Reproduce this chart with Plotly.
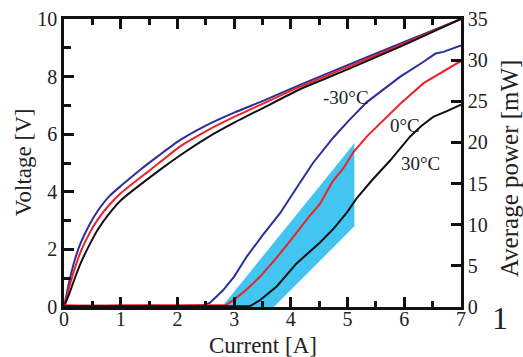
import plotly.graph_objects as go

# ---- Data ----
# Voltage [V] vs current [A]
v_cur_m30 = [0, 0.1, 0.2, 0.3, 0.46, 0.6, 0.8, 1.0, 1.34, 1.7, 2.05, 2.5, 3.0, 3.5, 4.16, 5.0, 6.0, 7.0]
v_m30 = [0, 0.95, 1.7, 2.25, 2.9, 3.35, 3.85, 4.2, 4.76, 5.3, 5.8, 6.3, 6.75, 7.15, 7.71, 8.4, 9.2, 10.0]

v_cur_0 = [0, 0.1, 0.2, 0.3, 0.46, 0.6, 0.8, 1.0, 1.52, 2.05, 2.5, 3.0, 3.5, 4.16, 5.0, 6.0, 7.0]
v_0 = [0, 0.75, 1.4, 1.95, 2.6, 3.05, 3.55, 3.95, 4.76, 5.58, 6.1, 6.6, 7.05, 7.65, 8.33, 9.15, 10.0]

v_cur_30 = [0, 0.1, 0.2, 0.3, 0.46, 0.6, 0.8, 1.0, 1.69, 2.05, 2.5, 3.0, 3.5, 4.16, 5.0, 6.0, 7.0]
v_30 = [0, 0.5, 1.05, 1.55, 2.2, 2.7, 3.25, 3.7, 4.76, 5.27, 5.85, 6.4, 6.9, 7.56, 8.25, 9.1, 10.0]

# Average power [mW] vs current [A]
p_cur_m30 = [0, 0.5, 1.0, 1.5, 2.0, 2.45, 2.57, 2.8, 3.0, 3.22, 3.5, 3.81, 4.16, 4.39, 4.75, 5.0, 5.34, 5.6, 5.93, 6.34, 6.55, 6.69, 7.0]
p_m30 = [0.1, 0.15, 0.1, 0.15, 0.1, 0.2, 0.5, 2.0, 3.7, 6.1, 8.7, 11.4, 15.1, 17.5, 20.6, 22.5, 24.9, 26.3, 28.0, 29.8, 30.8, 31.0, 31.8]

p_cur_0 = [0, 0.5, 1.0, 1.5, 2.0, 2.5, 2.85, 3.0, 3.2, 3.46, 3.75, 4.04, 4.3, 4.51, 4.73, 4.93, 5.1, 5.35, 5.63, 5.93, 6.34, 6.69, 7.0]
p_0 = [0.2, 0.15, 0.2, 0.2, 0.2, 0.2, 0.2, 0.9, 2.0, 3.7, 6.0, 8.5, 10.8, 12.5, 15.2, 16.9, 18.8, 20.8, 22.7, 24.7, 27.2, 28.6, 29.9]

p_cur_30 = [0, 0.5, 1.0, 1.5, 2.0, 2.5, 3.0, 3.28, 3.46, 3.75, 4.1, 4.51, 4.75, 4.99, 5.16, 5.43, 5.75, 6.1, 6.3, 6.51, 6.75, 7.0]
p_30 = [0.1, 0.1, 0.1, 0.1, 0.1, 0.1, 0.1, 0.1, 0.85, 2.5, 5.3, 7.8, 9.5, 11.5, 13.2, 15.4, 17.8, 20.7, 22.0, 23.1, 23.8, 24.6]

# Shaded band (power axis)
band_cur = [2.78, 5.12, 5.12, 3.70, 2.78]
band_pow = [0.0, 19.9, 9.8, 0.0, 0.0]

series_labels = ["-30°C", "0°C", "30°C"]
x_ticks = [0, 1, 2, 3, 4, 5, 6, 7]
y_ticks = [0, 2, 4, 6, 8, 10]
y2_ticks = [0, 5, 10, 15, 20, 25, 30, 35]

BLUE = "#2b2e9b"
RED = "#ec2227"
BLACK = "#111111"
CYAN = "#42c5f0"
FONT = "Liberation Serif"

fig = go.Figure()

fig.add_trace(go.Scatter(x=band_cur, y=band_pow, yaxis="y2", fill="toself",
                         fillcolor=CYAN, line=dict(width=0, color=CYAN),
                         mode="lines", hoverinfo="skip", showlegend=False))

for xs, ys, c in [(p_cur_m30, p_m30, BLUE), (p_cur_0, p_0, RED), (p_cur_30, p_30, BLACK)]:
    fig.add_trace(go.Scatter(x=xs, y=ys, yaxis="y2", mode="lines",
                             line=dict(color=c, width=2), showlegend=False))

for xs, ys, c in [(v_cur_m30, v_m30, BLUE), (v_cur_0, v_0, RED), (v_cur_30, v_30, BLACK)]:
    fig.add_trace(go.Scatter(x=xs, y=ys, mode="lines",
                             line=dict(color=c, width=2, shape="spline", smoothing=0.5),
                             showlegend=False))

tickfont = dict(family=FONT, size=20, color="#222")

fig.update_layout(
    width=523, height=357,
    margin=dict(l=64, r=62, t=19, b=50, autoexpand=False),
    paper_bgcolor="white", plot_bgcolor="white",
    xaxis=dict(range=[0, 7], tickvals=x_ticks, showline=True, linewidth=2.5,
               linecolor="#111", ticks="inside", ticklen=10, tickwidth=2.5,
               tickcolor="#111", mirror="ticks", showgrid=False, zeroline=False,
               tickfont=tickfont, automargin=False, ticklabelstandoff=-8,
               minor=dict(ticks="inside", ticklen=6, tickwidth=2.5, dtick=0.5,
                          tickcolor="#111", showgrid=False)),
    yaxis=dict(range=[0, 10], tickvals=y_ticks, showline=True, linewidth=2.5,
               linecolor="#111", ticks="inside", ticklen=10, tickwidth=2.5,
               tickcolor="#111", showgrid=False, zeroline=False, tickfont=tickfont,
               automargin=False,
               minor=dict(ticks="inside", ticklen=7, tickwidth=2.5, dtick=1,
                          tickcolor="#111", showgrid=False)),
    yaxis2=dict(range=[0, 35], tickvals=y2_ticks, overlaying="y", side="right",
                showline=True, linewidth=2.5, linecolor="#111", ticks="inside",
                ticklen=10, tickwidth=2.5, tickcolor="#111", showgrid=False,
                zeroline=False, tickfont=tickfont, automargin=False),
)

ann_font = dict(family=FONT, size=19, color="#222")
label_pos = [(4.97, 25.5), (6.01, 22.1), (6.28, 17.4)]
for (lx, ly), txt in zip(label_pos, series_labels):
    fig.add_annotation(x=lx, y=ly, xref="x", yref="y2", text=txt, showarrow=False,
                       font=ann_font, xanchor="center", yanchor="middle")

fig.add_annotation(x=0.501, y=-0.135, xref="paper", yref="paper", text="Current [A]",
                   showarrow=False, font=dict(family=FONT, size=23, color="#222"),
                   xanchor="center", yanchor="middle")
fig.add_annotation(x=-0.1033, y=0.503, xref="paper", yref="paper", text="Voltage [V]",
                   showarrow=False, textangle=-90,
                   font=dict(family=FONT, size=23, color="#222"),
                   xanchor="center", yanchor="middle")
fig.add_annotation(x=1.121, y=0.479, xref="paper", yref="paper", text="Average power [mW]",
                   showarrow=False, textangle=-90,
                   font=dict(family=FONT, size=25, color="#222"),
                   xanchor="center", yanchor="middle")
fig.add_annotation(x=1.098, y=-0.038, xref="paper", yref="paper", text="1",
                   showarrow=False, font=dict(family=FONT, size=32, color="#222"),
                   xanchor="center", yanchor="middle")

fig.write_html("out.html", config={"displayModeBar": False},
               post_script="document.body.style.margin='0';document.body.style.overflow='hidden';")
